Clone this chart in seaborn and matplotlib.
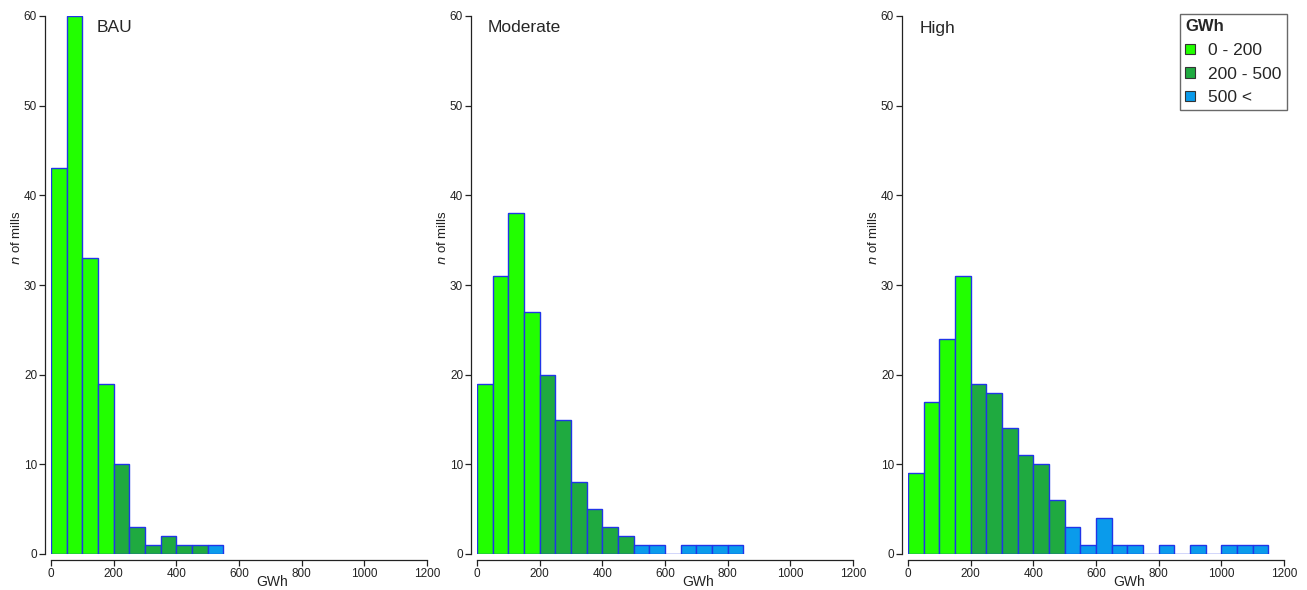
import numpy as np
import pandas as pd
import matplotlib
matplotlib.use("Agg")
import matplotlib.pyplot as plt
import seaborn as sns
from matplotlib.patches import Patch

# ---------------- data ----------------
bin_width = 50
scenarios = ["BAU", "Moderate", "High"]
bau_counts = [43, 60, 33, 19, 10, 3, 1, 2, 1, 1, 1]
moderate_counts = [19, 31, 38, 27, 20, 15, 8, 5, 3, 2, 1, 1, 0, 1, 1, 1, 1]
high_counts = [9, 17, 24, 31, 19, 18, 14, 11, 10, 6, 3, 1, 4, 1, 1, 0, 1, 0, 1, 0, 1, 1, 1]
class_labels = ["0 - 200", "200 - 500", "500 <"]
class_bounds = [0, 200, 500, 10000]
class_colors = ["#22FF00", "#1FAA40", "#0A9BEB"]
x_ticks = [0, 200, 400, 600, 800, 1000, 1200]
y_ticks = [0, 10, 20, 30, 40, 50, 60]

all_counts = [bau_counts, moderate_counts, high_counts]

sns.set_theme(style="ticks")
plt.rcParams["font.family"] = ["Liberation Sans", "DejaVu Sans"]

W, H = 1307, 590
fig = plt.figure(figsize=(W / 100, H / 100), dpi=100)

left_px = [51, 477, 908]
x0_px_w = 376
y_bottom_px, y_top_px = 554, 16

edge_col = "#2035E8"

for i, (name, counts) in enumerate(zip(scenarios, all_counts)):
    ax = fig.add_axes([left_px[i] / W, (H - y_bottom_px) / H,
                       x0_px_w / W, (y_bottom_px - y_top_px) / H])
    centers = np.arange(len(counts)) * bin_width + bin_width / 2
    counts_arr = np.asarray(counts, dtype=float)
    for k, (lab, col) in enumerate(zip(class_labels, class_colors)):
        mask = (centers > class_bounds[k]) & (centers < class_bounds[k + 1])
        if not mask.any():
            continue
        xs = centers[mask]
        ws = counts_arr[mask]
        lo = float(xs.min() - bin_width / 2)
        hi = float(xs.max() + bin_width / 2)
        sns.histplot(x=xs, weights=ws, binwidth=bin_width, binrange=(lo, hi), ax=ax,
                     color=col, alpha=1, edgecolor=edge_col, linewidth=1.0)
    ax.set_xlim(0, 1200)
    ax.set_ylim(0, 60)
    ax.set_xticks(x_ticks)
    ax.set_yticks(y_ticks)
    ax.tick_params(axis="both", labelsize=8.5, length=4, width=0.9, colors="#222222", pad=2)
    for s in ["top", "right"]:
        ax.spines[s].set_visible(False)
    ax.spines["left"].set_position(("outward", 4))
    ax.spines["bottom"].set_position(("outward", 4))
    ax.spines["left"].set_bounds(0, 60)
    ax.spines["bottom"].set_bounds(0, 1200)
    for s in ["left", "bottom"]:
        ax.spines[s].set_linewidth(0.9)
        ax.spines[s].set_color("#222222")
    ax.set_ylabel(r"$\it{n}$ of mills", fontsize=9.5, color="#222222")
    ax.yaxis.set_label_coords(-0.093, 0.589)
    ax.set_xlabel("GWh", fontsize=10, color="#222222")
    ax.xaxis.set_label_coords(0.588, -0.052)
    ax.xaxis.label.set_va("center")
    ax.yaxis.label.set_va("center")
    ax.patch.set_alpha(0)
    title_x = [97, 488, 920][i]
    ax.text((title_x - left_px[i]) / x0_px_w, (y_bottom_px - 28) / (y_bottom_px - y_top_px),
            name, transform=ax.transAxes, fontsize=12.5, ha="left", va="center",
            bbox=dict(facecolor="white", edgecolor="none", pad=1))

handles = [Patch(facecolor=c, edgecolor="#333333", linewidth=0.8) for c in class_colors]
leg = fig.legend(handles, class_labels, title="GWh", loc="upper right",
                 bbox_to_anchor=(1287 / W, 1 - 14 / H), frameon=True, fancybox=False,
                 fontsize=12.5, title_fontproperties={"weight": "bold", "size": 12},
                 handlelength=0.55, handleheight=0.55, handletextpad=0.8,
                 labelspacing=0.5, borderpad=0.3, borderaxespad=0,
                 alignment="left")
leg.get_frame().set_edgecolor("#444444")
leg.get_frame().set_linewidth(1.0)

fig.savefig("out.png", dpi=100)
